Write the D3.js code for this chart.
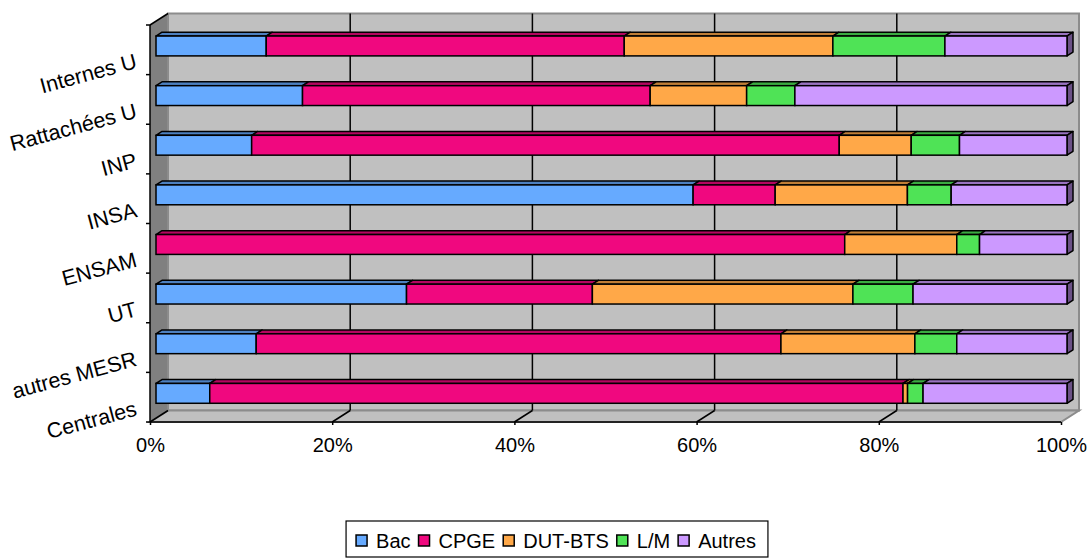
<!DOCTYPE html>
<html>
  <head>
    <meta charset="utf-8" />
    <title>Origine des élèves par type d'école</title>
    <style>
      body { margin: 0; background: #ffffff; }
      svg text { font-family: "Liberation Sans", Arial, sans-serif; fill: #000; }
    </style>
  </head>
  <body>
    <svg id="chart" width="1088" height="558"></svg>
    <script src="https://d3js.org/d3.v7.min.js"></script>
    <script>
      // categories from top to bottom of the chart
      const categories = ["Internes U", "Rattachées U", "INP", "INSA", "ENSAM", "UT", "autres MESR", "Centrales"];
      const seriesNames = ["Bac", "CPGE", "DUT-BTS", "L/M", "Autres"];
      const seriesColors = ["#66aaff", "#f0087f", "#ffa848", "#4fe356", "#cc99ff"];

      // shares in %
      const bac = [12.1, 16.1, 10.5, 58.9, 0, 27.5, 11.0, 5.9];
      const cpge = [39.3, 38.2, 64.5, 9.0, 75.6, 20.4, 57.6, 76.1];
      const dutBts = [22.9, 10.6, 7.9, 14.5, 12.3, 28.6, 14.7, 0.5];
      const lm = [12.3, 5.3, 5.3, 4.8, 2.5, 6.6, 4.6, 1.7];
      const autres = [13.4, 29.9, 11.8, 12.7, 9.6, 16.9, 12.1, 15.8];

      const xTicks = [0, 0.2, 0.4, 0.6, 0.8, 1];

      let plotLeft = 150, plotRight = 1061, plotTop = 25, plotBottom = 422;
      // 3d depth of the box and of the bars
      let dx = 18, dy = -11.5;
      let bdx = dx / 3, bdy = dy / 3;

      let rows = categories.map(function (c, i) {
        return { cat: c, "Bac": bac[i], "CPGE": cpge[i], "DUT-BTS": dutBts[i], "L/M": lm[i], "Autres": autres[i] };
      });

      let stacked = d3.stack().keys(seriesNames).offset(d3.stackOffsetExpand)(rows);

      let svg = d3.select("#chart");

      let xScale = d3.scaleLinear().domain([0, 1]).range([plotLeft, plotRight]);
      let yScale = d3
        .scaleBand()
        .domain(categories)
        .range([plotTop, plotBottom])
        .paddingInner(0.6)
        .paddingOuter(0.3);
      let step = yScale.step();

      // walls and floor
      svg
        .append("polygon")
        .attr("points", [[plotLeft, plotTop], [plotLeft + dx, plotTop + dy], [plotLeft + dx, plotBottom + dy], [plotLeft, plotBottom]].join(" "))
        .attr("fill", "#808080");

      svg
        .append("rect")
        .attr("x", plotLeft + dx)
        .attr("y", plotTop + dy)
        .attr("width", plotRight - plotLeft)
        .attr("height", plotBottom - plotTop)
        .attr("fill", "#c0c0c0")
        .attr("stroke", "#8c8c8c")
        .attr("stroke-width", 2);

      svg
        .append("polygon")
        .attr("points", [[plotLeft, plotBottom], [plotLeft + dx, plotBottom + dy], [plotRight + dx, plotBottom + dy], [plotRight, plotBottom]].join(" "))
        .attr("fill", "#c0c0c0")
        .attr("stroke", "#8c8c8c")
        .attr("stroke-width", 2);

      // gridlines on the back wall and floor
      let inner = xTicks.filter((t) => t > 0 && t < 1);
      svg
        .selectAll(".grid")
        .data(inner)
        .join("line")
        .attr("class", "grid")
        .attr("x1", (d) => xScale(d) + dx)
        .attr("x2", (d) => xScale(d) + dx)
        .attr("y1", plotTop + dy)
        .attr("y2", plotBottom + dy)
        .attr("stroke", "#000")
        .attr("stroke-width", 1.5);

      svg
        .selectAll(".floorGrid")
        .data(xTicks.filter((t) => t < 1))
        .join("line")
        .attr("class", "floorGrid")
        .attr("x1", (d) => xScale(d))
        .attr("x2", (d) => xScale(d) + dx)
        .attr("y1", plotBottom)
        .attr("y2", plotBottom + dy)
        .attr("stroke", "#000")
        .attr("stroke-width", 1.5);

      // left wall top edge
      svg
        .append("line")
        .attr("x1", plotLeft)
        .attr("y1", plotTop)
        .attr("x2", plotLeft + dx)
        .attr("y2", plotTop + dy)
        .attr("stroke", "#000")
        .attr("stroke-width", 1.5);

      // bars
      let bars = svg.append("g");
      stacked.forEach(function (layer, si) {
        let col = seriesColors[si];
        layer.forEach(function (seg, ci) {
          let x0 = xScale(seg[0]) + bdx;
          let x1 = xScale(seg[1]) + bdx;
          if (x1 - x0 < 0.1) return;
          let y0 = yScale(categories[ci]) + bdy;
          let y1 = y0 + yScale.bandwidth();

          bars
            .append("polygon")
            .attr("points", [[x0, y0], [x0 + bdx, y0 + bdy], [x1 + bdx, y0 + bdy], [x1, y0]].join(" "))
            .attr("fill", d3.color(col).darker(0.8))
            .attr("stroke", "#000")
            .attr("stroke-width", 1.5)
            .attr("stroke-linejoin", "round");

          if (si == seriesNames.length - 1) {
            bars
              .append("polygon")
              .attr("points", [[x1, y0], [x1 + bdx, y0 + bdy], [x1 + bdx, y1 + bdy], [x1, y1]].join(" "))
              .attr("fill", d3.color(col).darker(1.8))
              .attr("stroke", "#000")
              .attr("stroke-width", 1.5)
              .attr("stroke-linejoin", "round");
          }

          bars
            .append("rect")
            .attr("x", x0)
            .attr("y", y0)
            .attr("width", x1 - x0)
            .attr("height", y1 - y0)
            .attr("fill", col)
            .attr("stroke", "#000")
            .attr("stroke-width", 1.5);
        });
      });

      // axes
      let xAxis = svg
        .append("g")
        .attr("transform", "translate(0," + plotBottom + ")")
        .call(d3.axisBottom(xScale).tickValues(xTicks).tickFormat(d3.format(".0%")).tickSize(3).tickPadding(13));
      xAxis.select(".domain").attr("stroke", "#000").attr("stroke-width", 1.5).attr("d", "M" + plotLeft + ",0H" + plotRight);
      xAxis.selectAll(".tick line").attr("stroke", "#000").attr("stroke-width", 1.5);
      xAxis.selectAll(".tick text").style("font-size", "20px").attr("fill", "#000");

      let yBound = d3.range(categories.length + 1).map((i) => plotTop + i * step);
      svg
        .append("line")
        .attr("x1", plotLeft)
        .attr("x2", plotLeft)
        .attr("y1", plotTop)
        .attr("y2", plotBottom)
        .attr("stroke", "#000")
        .attr("stroke-width", 1.5);
      svg
        .selectAll(".ytick")
        .data(yBound)
        .join("line")
        .attr("class", "ytick")
        .attr("x1", plotLeft - 4)
        .attr("x2", plotLeft)
        .attr("y1", (d) => d)
        .attr("y2", (d) => d)
        .attr("stroke", "#000")
        .attr("stroke-width", 1.5);

      svg
        .selectAll(".ylabel")
        .data(categories)
        .join("text")
        .attr("class", "ylabel")
        .attr("text-anchor", "end")
        .style("font-size", "21.5px")
        .attr("transform", (d) => "translate(138," + (yScale(d) + yScale.bandwidth() / 2 + 18) + ") rotate(-15)")
        .text((d) => d);

      // legend
      let legend = svg.append("g");
      let legendBox = legend
        .append("rect")
        .attr("y", 521)
        .attr("height", 36)
        .attr("fill", "#fff")
        .attr("stroke", "#000")
        .attr("stroke-width", 1.2);

      let lx = 0;
      seriesNames.forEach(function (name, i) {
        legend
          .append("rect")
          .attr("x", lx)
          .attr("y", 535)
          .attr("width", 11)
          .attr("height", 11)
          .attr("fill", seriesColors[i])
          .attr("stroke", "#000")
          .attr("stroke-width", 1.5);
        let t = legend
          .append("text")
          .attr("x", lx + 20)
          .attr("y", 548)
          .style("font-size", "20px")
          .text(name);
        lx += 20 + t.node().getComputedTextLength() + 8;
      });
      let legendWidth = lx - 8;
      let legendLeft = 556 - legendWidth / 2;
      legendBox.attr("x", -10).attr("width", legendWidth + 22);
      legend.attr("transform", "translate(" + legendLeft + ",0)");
    </script>
  </body>
</html>
